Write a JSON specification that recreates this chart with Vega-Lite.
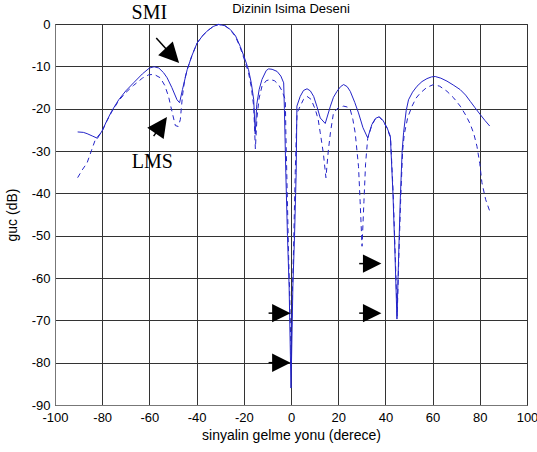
{
  "$schema": "https://vega.github.io/schema/vega-lite/v6.json",
  "width": 472,
  "height": 381,
  "autosize": {"type": "none"},
  "padding": {"left": 55, "top": 24, "right": 10, "bottom": 47},
  "background": "white",
  "title": {"text": "Dizinin Isima Deseni", "font": "Liberation Sans", "fontSize": 13, "fontWeight": "normal", "color": "#000", "offset": -13, "anchor": "middle", "frame": "group"},
  "config": {
    "view": {"stroke": "#333", "strokeWidth": 1},
    "axis": {
      "grid": true, "gridColor": "#333", "gridOpacity": 1, "gridWidth": 1,
      "domainColor": "#777", "ticks": false,
      "labelFont": "Liberation Sans", "labelFontSize": 13, "labelColor": "#000",
      "titleFont": "Liberation Sans", "titleFontSize": 14, "titleFontWeight": "normal", "titleColor": "#000",
      "labelOverlap": false, "labelBound": false, "labelFlush": false,
      "labelExpr": "'' + datum.value"
    }
  },
  "datasets": {
    "smi": [
      {"x": -90.4, "y": -25.5}, {"x": -88, "y": -25.6}, {"x": -86.4, "y": -25.9}, {"x": -84, "y": -26.5}, {"x": -82, "y": -27.0},
      {"x": -80, "y": -25.2}, {"x": -78, "y": -22.8}, {"x": -76, "y": -20.6}, {"x": -73, "y": -17.9}, {"x": -70, "y": -15.8},
      {"x": -66.7, "y": -13.9}, {"x": -63, "y": -11.8}, {"x": -60, "y": -10.4}, {"x": -58, "y": -10.1}, {"x": -56, "y": -10.4},
      {"x": -54, "y": -11.5}, {"x": -52.5, "y": -12.7}, {"x": -50.5, "y": -15.0}, {"x": -48.3, "y": -17.9}, {"x": -47.2, "y": -18.6},
      {"x": -46, "y": -15.5}, {"x": -44, "y": -10.8}, {"x": -42, "y": -7.5}, {"x": -39.8, "y": -4.5}, {"x": -37.5, "y": -2.8},
      {"x": -35.6, "y": -1.7}, {"x": -33, "y": -0.6}, {"x": -30.7, "y": -0.1}, {"x": -28, "y": -0.4}, {"x": -25.7, "y": -1.3},
      {"x": -23.5, "y": -2.8}, {"x": -21.5, "y": -5.3}, {"x": -19.7, "y": -8}, {"x": -18, "y": -10.8}, {"x": -16.8, "y": -14},
      {"x": -15.8, "y": -17.9}, {"x": -15.15, "y": -26}, {"x": -14.5, "y": -19}, {"x": -13.5, "y": -15.5}, {"x": -12.3, "y": -13.1},
      {"x": -10.5, "y": -11}, {"x": -9.5, "y": -10.6}, {"x": -8, "y": -10.7}, {"x": -5.9, "y": -11.2}, {"x": -4.3, "y": -12.3},
      {"x": -3.1, "y": -13.9}, {"x": -2.8, "y": -20}, {"x": -2.2, "y": -35}, {"x": -1.5, "y": -50}, {"x": -0.8, "y": -62},
      {"x": 0, "y": -86}, {"x": 0.8, "y": -62}, {"x": 1.5, "y": -50}, {"x": 2.2, "y": -35}, {"x": 2.5, "y": -19.4},
      {"x": 3.9, "y": -17.1}, {"x": 5.3, "y": -15.7}, {"x": 6.8, "y": -15.3}, {"x": 8.2, "y": -15.8}, {"x": 9.6, "y": -17.1},
      {"x": 11, "y": -19.5}, {"x": 12.4, "y": -22.2}, {"x": 14.5, "y": -23.5}, {"x": 16.7, "y": -19.4}, {"x": 18, "y": -17.3},
      {"x": 19.5, "y": -15.9}, {"x": 21, "y": -14.8}, {"x": 22.3, "y": -14.3}, {"x": 23.8, "y": -14.8}, {"x": 25.1, "y": -15.9},
      {"x": 27, "y": -18.5}, {"x": 28.6, "y": -21}, {"x": 30.5, "y": -24.5}, {"x": 32.5, "y": -26.9}, {"x": 34.3, "y": -23.7},
      {"x": 35.8, "y": -22.3}, {"x": 37.4, "y": -21.9}, {"x": 39, "y": -22.8}, {"x": 40.7, "y": -24.5}, {"x": 42.1, "y": -26.5},
      {"x": 43.2, "y": -40}, {"x": 44.1, "y": -55}, {"x": 44.9, "y": -69.7}, {"x": 45.6, "y": -55}, {"x": 46.3, "y": -41.4},
      {"x": 47.1, "y": -30}, {"x": 47.7, "y": -25.7}, {"x": 48.8, "y": -20.5}, {"x": 49.8, "y": -17.9}, {"x": 51.5, "y": -16.1},
      {"x": 53.4, "y": -14.7}, {"x": 55.5, "y": -13.6}, {"x": 57.6, "y": -12.9}, {"x": 59.5, "y": -12.5}, {"x": 61.1, "y": -12.4},
      {"x": 63.5, "y": -12.8}, {"x": 66.1, "y": -13.5}, {"x": 69, "y": -14.5}, {"x": 71.7, "y": -15.5}, {"x": 74, "y": -16.8},
      {"x": 76, "y": -18.3}, {"x": 78, "y": -19.8}, {"x": 80.2, "y": -21.4}, {"x": 82.2, "y": -22.8}, {"x": 84.2, "y": -24.1}
    ],
    "lms": [
      {"x": -90.4, "y": -36.3}, {"x": -88.5, "y": -34.5}, {"x": -86.4, "y": -32.8}, {"x": -84.5, "y": -29.8}, {"x": -82.9, "y": -27.3},
      {"x": -80, "y": -25.3}, {"x": -78, "y": -22.9}, {"x": -76, "y": -20.8}, {"x": -73, "y": -18.1}, {"x": -70, "y": -16.2},
      {"x": -66.7, "y": -14.5}, {"x": -63, "y": -12.8}, {"x": -60.3, "y": -12.0}, {"x": -58, "y": -11.9}, {"x": -55.4, "y": -12.7},
      {"x": -53.5, "y": -14.5}, {"x": -51.9, "y": -17.1}, {"x": -50.3, "y": -21}, {"x": -49, "y": -24}, {"x": -47.8, "y": -24.2},
      {"x": -46.9, "y": -22.6}, {"x": -46, "y": -17}, {"x": -45, "y": -13}, {"x": -44, "y": -10.8}, {"x": -42, "y": -7.5},
      {"x": -39.8, "y": -4.5}, {"x": -37.5, "y": -2.8}, {"x": -35.6, "y": -1.7}, {"x": -33, "y": -0.6}, {"x": -30.7, "y": -0.1},
      {"x": -28, "y": -0.4}, {"x": -25.7, "y": -1.4}, {"x": -23.5, "y": -3}, {"x": -21.5, "y": -5.6}, {"x": -19.7, "y": -8.5},
      {"x": -18, "y": -11.5}, {"x": -16.8, "y": -15}, {"x": -15.8, "y": -19.5}, {"x": -15.1, "y": -29.5}, {"x": -14.4, "y": -22},
      {"x": -13.5, "y": -17.5}, {"x": -12.3, "y": -14.7}, {"x": -10.5, "y": -13.4}, {"x": -8.8, "y": -13.1}, {"x": -7, "y": -13.4},
      {"x": -5.3, "y": -14.3}, {"x": -3.8, "y": -15.8}, {"x": -2.4, "y": -17.9}, {"x": -2.2, "y": -25}, {"x": -1.6, "y": -40},
      {"x": -1, "y": -55}, {"x": -0.5, "y": -65}, {"x": 0, "y": -78}, {"x": 0.5, "y": -65}, {"x": 1, "y": -55},
      {"x": 1.8, "y": -35}, {"x": 2.3, "y": -25}, {"x": 2.6, "y": -21}, {"x": 3.9, "y": -19.4}, {"x": 5.3, "y": -17.8},
      {"x": 6.8, "y": -17.1}, {"x": 8.5, "y": -17.8}, {"x": 10.3, "y": -20.2}, {"x": 11.5, "y": -22.5}, {"x": 12.4, "y": -25.7},
      {"x": 13.7, "y": -30.5}, {"x": 14.8, "y": -36.3}, {"x": 15.8, "y": -30}, {"x": 16.7, "y": -25.7}, {"x": 18, "y": -21},
      {"x": 20, "y": -19.8}, {"x": 22.3, "y": -19.4}, {"x": 23.8, "y": -19.6}, {"x": 25.1, "y": -20.2}, {"x": 26.2, "y": -22.5},
      {"x": 27.2, "y": -25.7}, {"x": 28.6, "y": -33.6}, {"x": 29.3, "y": -42}, {"x": 30.1, "y": -52.5}, {"x": 30.9, "y": -42},
      {"x": 31.6, "y": -33}, {"x": 32.5, "y": -27}, {"x": 34.3, "y": -23.8}, {"x": 35.8, "y": -22.4}, {"x": 37.4, "y": -22},
      {"x": 39, "y": -22.9}, {"x": 40.7, "y": -24.6}, {"x": 42.2, "y": -27}, {"x": 43.3, "y": -40}, {"x": 44.2, "y": -55},
      {"x": 45, "y": -69}, {"x": 45.7, "y": -55}, {"x": 46.5, "y": -41}, {"x": 47.3, "y": -30}, {"x": 48, "y": -26},
      {"x": 49.5, "y": -22}, {"x": 51.3, "y": -19.4}, {"x": 53, "y": -17.5}, {"x": 54.8, "y": -16.3}, {"x": 57.5, "y": -15},
      {"x": 60.4, "y": -14.3}, {"x": 63, "y": -14.7}, {"x": 66.1, "y": -15.9}, {"x": 69, "y": -17.5}, {"x": 71.7, "y": -19.4},
      {"x": 74, "y": -21.5}, {"x": 76, "y": -23.7}, {"x": 77.5, "y": -26}, {"x": 78.8, "y": -28.9}, {"x": 80, "y": -33},
      {"x": 80.9, "y": -37.5}, {"x": 82.5, "y": -41.5}, {"x": 84.2, "y": -44.2}
    ],
    "arrowsRight": [
      {"x": -9.5, "x2": -4.1, "y": -68.3},
      {"x": -9.5, "x2": -4.1, "y": -80},
      {"x": 28.9, "x2": 34.4, "y": -56.6},
      {"x": 28.9, "x2": 34.4, "y": -68.3}
    ],
    "arrowSMI": [{"x": -57.1, "y": -3.3, "x2": -50.3, "y2": -7.5}],
    "arrowLMS": [{"x": -58.2, "y": -26.5, "x2": -55, "y2": -23.9}],
    "labels": [
      {"x": -60, "y": 2.7, "label": "SMI"},
      {"x": -58.8, "y": -32.7, "label": "LMS"}
    ]
  },
  "layer": [
    {
      "data": {"name": "smi"},
      "mark": {"type": "line", "color": "#2424c8", "strokeWidth": 1},
      "encoding": {
        "x": {"field": "x", "type": "quantitative", "scale": {"domain": [-100, 100], "nice": false},
              "axis": {"values": [-100, -80, -60, -40, -20, 0, 20, 40, 60, 80, 100], "title": "sinyalin gelme yonu (derece)", "labelPadding": 6, "titlePadding": 4}},
        "y": {"field": "y", "type": "quantitative", "scale": {"domain": [-90, 0], "nice": false},
              "axis": {"values": [-90, -80, -70, -60, -50, -40, -30, -20, -10, 0], "title": "guc (dB)", "labelPadding": 5, "titlePadding": 12}}
      }
    },
    {
      "data": {"name": "lms"},
      "mark": {"type": "line", "color": "#2424c8", "strokeWidth": 1, "strokeDash": [5, 4]},
      "encoding": {
        "x": {"field": "x", "type": "quantitative"},
        "y": {"field": "y", "type": "quantitative"}
      }
    },
    {
      "data": {"name": "arrowsRight"},
      "mark": {"type": "rule", "color": "black", "strokeWidth": 1.5},
      "encoding": {
        "x": {"field": "x", "type": "quantitative"},
        "x2": {"field": "x2"},
        "y": {"field": "y", "type": "quantitative"}
      }
    },
    {
      "data": {"name": "arrowsRight"},
      "mark": {"type": "point", "shape": "M-1,-1L1,0L-1,1Z", "filled": true, "color": "black", "opacity": 1, "size": 340},
      "encoding": {
        "x": {"field": "x2", "type": "quantitative"},
        "y": {"field": "y", "type": "quantitative"}
      }
    },
    {
      "data": {"name": "arrowSMI"},
      "mark": {"type": "rule", "color": "black", "strokeWidth": 1.5},
      "encoding": {
        "x": {"field": "x", "type": "quantitative"},
        "y": {"field": "y", "type": "quantitative"},
        "x2": {"field": "x2"},
        "y2": {"field": "y2"}
      }
    },
    {
      "data": {"name": "arrowSMI"},
      "mark": {"type": "point", "shape": "M-1,-1L1,0L-1,1Z", "filled": true, "color": "black", "opacity": 1, "size": 400, "angle": 47},
      "encoding": {
        "x": {"field": "x2", "type": "quantitative"},
        "y": {"field": "y2", "type": "quantitative"}
      }
    },
    {
      "data": {"name": "arrowLMS"},
      "mark": {"type": "rule", "color": "black", "strokeWidth": 1.5},
      "encoding": {
        "x": {"field": "x", "type": "quantitative"},
        "y": {"field": "y", "type": "quantitative"},
        "x2": {"field": "x2"},
        "y2": {"field": "y2"}
      }
    },
    {
      "data": {"name": "arrowLMS"},
      "mark": {"type": "point", "shape": "M-1,-1L1,0L-1,1Z", "filled": true, "color": "black", "opacity": 1, "size": 400, "angle": 305},
      "encoding": {
        "x": {"field": "x2", "type": "quantitative"},
        "y": {"field": "y2", "type": "quantitative"}
      }
    },
    {
      "data": {"name": "labels"},
      "mark": {"type": "text", "font": "Liberation Serif", "fontSize": 20, "color": "black", "align": "center", "baseline": "middle"},
      "encoding": {
        "x": {"field": "x", "type": "quantitative"},
        "y": {"field": "y", "type": "quantitative"},
        "text": {"field": "label"}
      }
    }
  ]
}
